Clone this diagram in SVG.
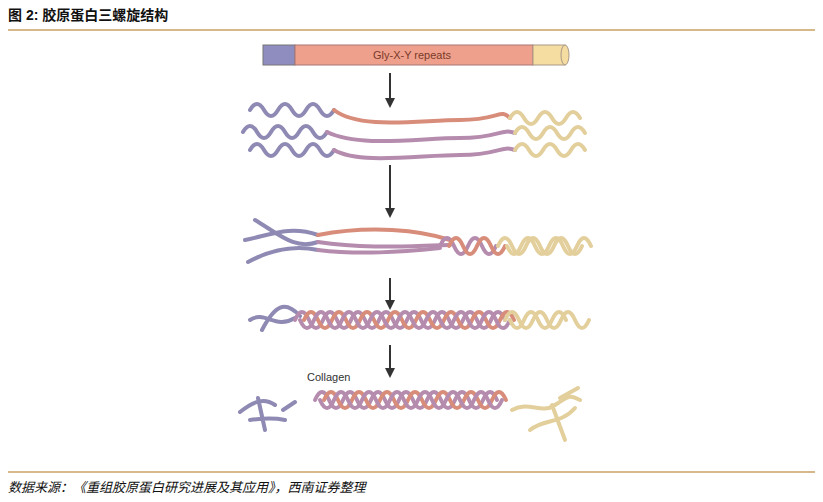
<svg xmlns="http://www.w3.org/2000/svg" width="823" height="502" viewBox="0 0 823 502">
<style>
.t{font-family:"Liberation Sans","Noto Sans CJK SC",sans-serif}
.s{fill:none;stroke-width:4;stroke-linecap:round}
.p{stroke:#8e8ab4}.r{stroke:#d88c7a}.m{stroke:#b58cae}.y{stroke:#e3cf9c}
.ar{stroke:#333;stroke-width:2}
</style>
<defs><marker id="ah" viewBox="0 0 10 10" refX="8" refY="5" markerWidth="5" markerHeight="5" orient="auto"><path d="M0 0L10 5L0 10z" fill="#333"/></marker></defs>
<rect width="823" height="502" fill="#fff"/>
<text class="t" x="8" y="20" font-size="14" font-weight="bold" fill="#111">图 2:  胶原蛋白三螺旋结构</text>
<line x1="8" y1="30" x2="815" y2="30" stroke="#c9a062" stroke-width="1.5"/>
<line x1="8" y1="472" x2="815" y2="472" stroke="#c9a062" stroke-width="1.5"/>
<text class="t" x="8" y="492" font-size="13" font-style="italic" fill="#111">数据来源：《重组胶原蛋白研究进展及其应用》，西南证券整理</text>
<g id="rod">
<rect x="263" y="45" width="32" height="20" fill="#8f8cc0" stroke="#777"/>
<rect x="295" y="45" width="238" height="20" fill="#eea08c" stroke="#a77"/>
<rect x="533" y="45" width="32" height="20" fill="#f5dca0" stroke="#a98"/>
<ellipse cx="565" cy="55" rx="4" ry="10" fill="#f5dca0" stroke="#a98"/>
<text class="t" x="412" y="59" font-size="11" text-anchor="middle" fill="#7a3a2a">Gly-X-Y repeats</text>
</g>
<g id="connectors">
<line class="ar" x1="390" y1="73" x2="390" y2="106" marker-end="url(#ah)"/>
<line class="ar" x1="390" y1="165" x2="390" y2="216" marker-end="url(#ah)"/>
<line class="ar" x1="390" y1="278" x2="390" y2="308" marker-end="url(#ah)"/>
<line class="ar" x1="390" y1="345" x2="390" y2="376" marker-end="url(#ah)"/>
</g>
<g id="stage1">
<path class="s p" d="M250 110 q7 -12 14 0 t14 0 t14 0 t14 0 t14 0 t14 0"/>
<path class="s r" d="M334 110 C360 130 420 120 460 120 S500 108 510 118"/>
<path class="s y" d="M510 118 q7 -12 14 0 t14 0 t14 0 t14 0 t14 0"/>
<path class="s p" d="M243 132 q7 -12 14 0 t14 0 t14 0 t14 0 t14 0 t14 0"/>
<path class="s m" d="M327 132 C360 148 420 138 460 138 S500 128 515 133"/>
<path class="s y" d="M515 133 q7 -12 14 0 t14 0 t14 0 t14 0 t14 0"/>
<path class="s p" d="M250 150 q7 -12 14 0 t14 0 t14 0 t14 0 t14 0 t14 0"/>
<path class="s m" d="M334 150 C360 165 420 155 460 155 S500 145 515 150"/>
<path class="s y" d="M515 150 q7 -12 14 0 t14 0 t14 0 t14 0 t14 0"/>
</g>
<g id="stage2">
<path class="s p" d="M245 240 C270 235 290 225 318 235"/>
<path class="s p" d="M255 220 C280 235 295 250 318 242"/>
<path class="s p" d="M248 262 C270 250 295 245 318 250"/>
<path class="s r" d="M318 235 C370 225 420 230 450 240"/>
<path class="s m" d="M318 242 C370 250 420 245 450 245"/>
<path class="s m" d="M318 250 C360 255 400 252 440 248"/>
<path class="s m" d="M440 246 q7 -16 14 0 t14 0 t14 0 t14 0"/>
<path class="s r" d="M449 246 q7 -16 14 0 t14 0 t14 0 t14 0"/>
<path class="s y" d="M498 246 q7 -16 14 0 t14 0 t14 0 t14 0 t14 0 t14 0"/>
<path class="s y" d="M507 246 q7 16 14 0 t14 0 t14 0 t14 0 t14 0 t14 0"/>
</g>
<g id="stage3">
<path class="s p" d="M250 320 C265 310 275 330 295 318 M262 330 C275 305 285 300 300 316"/>
<path class="s m" d="M295 320 q7 -16 14 0 t14 0 t14 0 t14 0 t14 0 t14 0 t14 0 t14 0 t14 0 t14 0 t14 0 t14 0 t14 0 t14 0 t14 0"/>
<path class="s r" d="M304 320 q7 -16 14 0 t14 0 t14 0 t14 0 t14 0 t14 0 t14 0 t14 0 t14 0 t14 0 t14 0 t14 0 t14 0 t14 0 t14 0"/>
<path class="s m" d="M300 320 q7 16 14 0 t14 0 t14 0 t14 0 t14 0 t14 0 t14 0 t14 0 t14 0 t14 0 t14 0 t14 0 t14 0 t14 0 t14 0"/>
<path class="s y" d="M505 320 q7 -16 14 0 t14 0 t14 0 t14 0 t14 0 t14 0"/>
<path class="s y" d="M510 320 q7 16 14 0 t14 0 t14 0 t14 0"/>
</g>
<g id="stage4">
<text class="t" x="307" y="381" font-size="11" fill="#333">Collagen</text>
<path class="s m" d="M315 400 q7 -16 14 0 t14 0 t14 0 t14 0 t14 0 t14 0 t14 0 t14 0 t14 0 t14 0 t14 0 t14 0 t14 0"/>
<path class="s r" d="M324 400 q7 -16 14 0 t14 0 t14 0 t14 0 t14 0 t14 0 t14 0 t14 0 t14 0 t14 0 t14 0 t14 0 t14 0"/>
<path class="s m" d="M320 400 q7 16 14 0 t14 0 t14 0 t14 0 t14 0 t14 0 t14 0 t14 0 t14 0 t14 0 t14 0 t14 0 t14 0"/>
<path class="s p" d="M240 412 C255 400 265 398 275 405 M258 398 L265 430 M250 420 C265 418 275 418 285 420 M283 410 L295 402"/>
<path class="s y" d="M512 410 C530 400 540 415 555 405 S570 395 580 400 M530 430 C545 418 560 425 575 408 M552 405 L565 440 M560 398 L578 388"/>
</g>
</svg>
